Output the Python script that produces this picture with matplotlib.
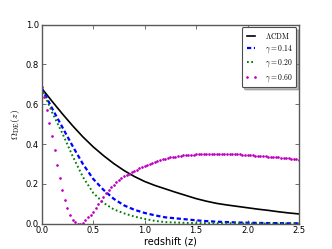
import numpy as np
import matplotlib
matplotlib.use("Agg")
import matplotlib.pyplot as plt

plt.rcParams['mathtext.fontset'] = 'cm'

# LCDM and the two smooth gamma curves
z_line = [0.0, 0.1, 0.2, 0.3, 0.4, 0.5, 0.6, 0.7, 0.8, 0.9, 1.0, 1.1, 1.2,
          1.3, 1.4, 1.5, 1.6, 1.7, 1.8, 1.9, 2.0, 2.1, 2.2, 2.3, 2.4, 2.5]
om_lcdm = [0.680, 0.615, 0.552, 0.492, 0.436, 0.386, 0.342, 0.302, 0.267, 0.237,
           0.212, 0.192, 0.175, 0.158, 0.142, 0.126, 0.113, 0.102, 0.094, 0.087,
           0.080, 0.073, 0.067, 0.060, 0.054, 0.049]
om_g014 = [0.680, 0.580, 0.485, 0.390, 0.300, 0.225, 0.170, 0.125, 0.092, 0.070,
           0.054, 0.042, 0.032, 0.027, 0.022, 0.017, 0.013, 0.010, 0.008, 0.006,
           0.005, 0.004, 0.003, 0.003, 0.002, 0.002]
om_g020 = [0.680, 0.560, 0.455, 0.340, 0.235, 0.155, 0.105, 0.072, 0.052, 0.036,
           0.024, 0.014, 0.008, 0.006, 0.004, 0.003, 0.003, 0.002, 0.002, 0.002,
           0.001, 0.001, 0.001, 0.001, 0.001, 0.001]

# gamma = 0.60 drawn as points, one every 0.025 in z
z_pts = np.linspace(0.0, 2.5, 101)
om_g060 = [0.685, 0.635, 0.571, 0.508, 0.440, 0.368, 0.297, 0.230, 0.169, 0.118,
           0.077, 0.044, 0.021, 0.007, 0.001, 0.001, 0.005, 0.017, 0.032, 0.045,
           0.059, 0.078, 0.097, 0.116, 0.135, 0.155, 0.170, 0.183, 0.195, 0.207,
           0.218, 0.228, 0.237, 0.245, 0.252, 0.259, 0.266, 0.272, 0.278, 0.284,
           0.290, 0.296, 0.302, 0.307, 0.312, 0.316, 0.320, 0.324, 0.327, 0.330,
           0.333, 0.335, 0.337, 0.339, 0.341, 0.343, 0.344, 0.345, 0.346, 0.347,
           0.349, 0.349, 0.350, 0.350, 0.351, 0.351, 0.352, 0.352, 0.352, 0.351,
           0.351, 0.351, 0.350, 0.350, 0.349, 0.349, 0.348, 0.348, 0.347, 0.346,
           0.345, 0.344, 0.343, 0.342, 0.341, 0.340, 0.339, 0.338, 0.337, 0.336,
           0.335, 0.334, 0.333, 0.331, 0.330, 0.329, 0.328, 0.326, 0.325, 0.323,
           0.322]

labels = [r'$\Lambda{\rm CDM}$', r'$\gamma=0.14$', r'$\gamma=0.20$', r'$\gamma=0.60$']

fig = plt.figure(figsize=(3.32, 2.49), dpi=100)
ax = fig.add_axes([0.1256, 0.1016, 0.775, 0.8])

ax.plot(z_line, om_lcdm, color='k', lw=1.2, label=labels[0])
ax.plot(z_line, om_g014, color='b', lw=1.6, linestyle=(0, (1.9, 1.2)), label=labels[1])
ax.plot(z_line, om_g020, color='g', lw=1.4, linestyle=(0, (0.9, 1.3)), label=labels[2])
ax.plot(z_pts, om_g060, color='m', linestyle='none', marker='o', ms=1.35,
        mew=0.5, mec='m', label=labels[3])

ax.set_xlim(0, 2.5)
ax.set_ylim(0, 1.0)
ax.set_xticks([0.0, 0.5, 1.0, 1.5, 2.0, 2.5])
ax.set_yticks([0.0, 0.2, 0.4, 0.6, 0.8, 1.0])
ax.tick_params(direction='in', top=True, right=True, length=3, width=0.6,
               labelsize=6, pad=2, color='0.35')
for s in ax.spines.values():
    s.set_color('0.35')
    s.set_linewidth(1.0)

ax.set_xlabel('redshift (z)', fontsize=7, labelpad=1)
ax.set_ylabel(r'$\Omega_{\rm DE}(z)$', fontsize=7, labelpad=3)

leg = ax.legend(loc='upper right', fontsize=5.5, numpoints=2, handlelength=1.6,
                handletextpad=1.0, labelspacing=0.35, borderpad=0.45,
                fancybox=True, shadow={'color': '0.4', 'alpha': 0.45},
                framealpha=1, borderaxespad=0.35)
leg.get_frame().set_edgecolor('0.3')
leg.get_frame().set_linewidth(0.8)

fig.savefig('out.png', dpi=100)
